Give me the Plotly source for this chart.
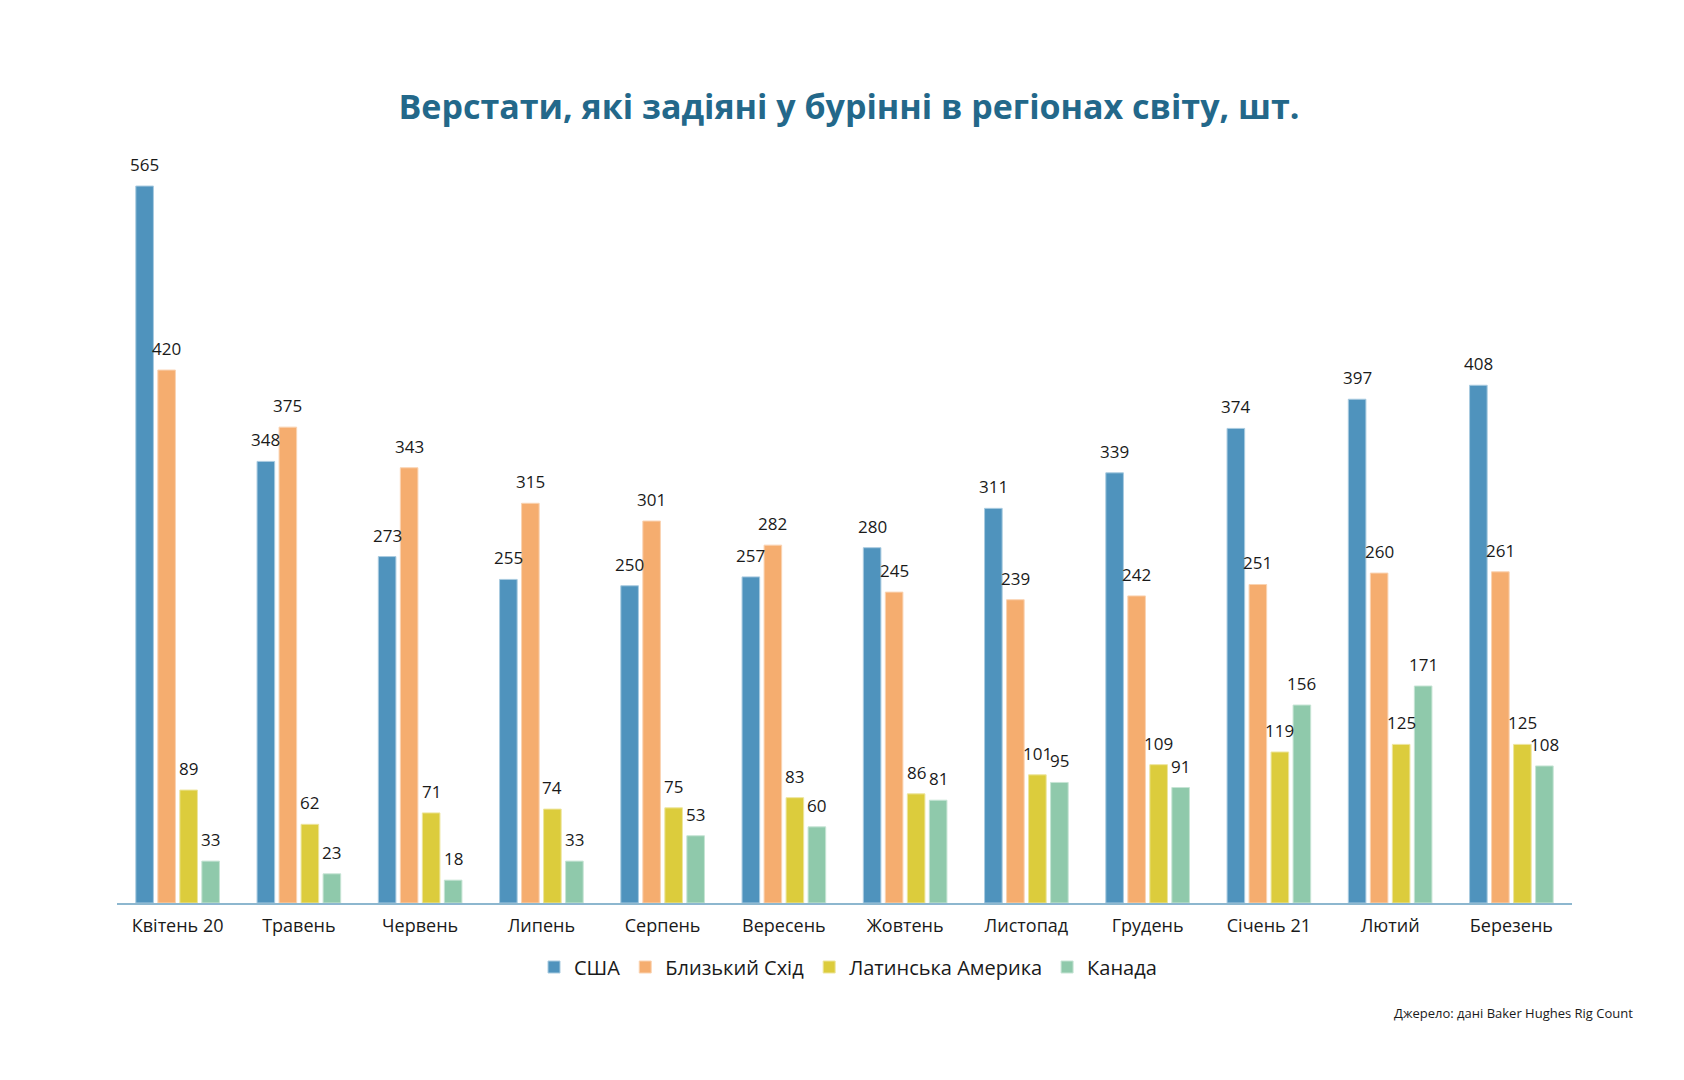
import plotly.graph_objects as go

months = ["Квітень 20", "Травень", "Червень", "Липень", "Серпень", "Вересень",
          "Жовтень", "Листопад", "Грудень", "Січень 21", "Лютий", "Березень"]
usa = [565, 348, 273, 255, 250, 257, 280, 311, 339, 374, 397, 408]
middle_east = [420, 375, 343, 315, 301, 282, 245, 239, 242, 251, 260, 261]
latin_america = [89, 62, 71, 74, 75, 83, 86, 101, 109, 119, 125, 125]
canada = [33, 23, 18, 33, 53, 60, 81, 95, 91, 156, 171, 108]

series_names = ["США", "Близький Схід", "Латинська Америка", "Канада"]
series_values = [usa, middle_east, latin_america, canada]
colors = ["#4f93bd", "#f5ad6f", "#dccc3c", "#8fc9ab"]
edge_colors = ["#a9cbe0", "#fad3b2", "#ede59c", "#c6e4d4"]

title_text = "Верстати, які задіяні у бурінні в регіонах світу, шт."
source_text = "Джерело: дані Baker Hughes Rig Count"

BARGAP = 0.274
GROUPGAP = 0.2
FONT = "Open Sans"

fig = go.Figure()
for name, vals, c, ec in zip(series_names, series_values, colors, edge_colors):
    fig.add_trace(go.Bar(
        x=months, y=vals, name=name,
        marker=dict(color=c, line=dict(color=ec, width=1)),
    ))

slot = (1 - BARGAP) / len(series_names)
annotations = []
for i, vals in enumerate(series_values):
    off = (i - (len(series_names) - 1) / 2) * slot
    for j, v in enumerate(vals):
        annotations.append(dict(
            x=j + off, y=v, xref="x", yref="y", text=str(v), showarrow=False,
            yanchor="bottom", xanchor="center", yshift=8,
            font=dict(family=FONT, size=17, color="#1a1a1a"),
        ))

L, R, T, B = 117, 112, 150, 177
W, H = 1684, 1080
pw, ph = W - L - R, H - T - B

annotations.append(dict(
    x=(1635 - L) / pw, y=(H - B - 1013) / ph, xref="paper", yref="paper",
    text=source_text, showarrow=False, xanchor="right", yanchor="middle",
    font=dict(family=FONT, size=13, color="#1a1a1a"),
))

fig.update_layout(
    width=W, height=H,
    margin=dict(l=L, r=R, t=T, b=B, autoexpand=False),
    paper_bgcolor="white", plot_bgcolor="white",
    barmode="group", bargap=BARGAP, bargroupgap=GROUPGAP,
    title=dict(text=title_text, x=849 / W, xanchor="center",
               y=1 - 107 / H, yanchor="middle", yref="container",
               font=dict(family=FONT, size=34, color="#23688a", weight="bold")),
    font=dict(family=FONT, color="#1a1a1a"),
    xaxis=dict(showgrid=False, showline=True, linecolor="#8db7cf", linewidth=2,
               ticks="", tickfont=dict(family=FONT, size=18, color="#1a1a1a"),
               ticklabelstandoff=5, fixedrange=True),
    yaxis=dict(range=[0, 593.4], visible=False, fixedrange=True),
    legend=dict(orientation="h", x=(848 - L) / pw, xanchor="center",
                y=(H - B - 967) / ph, yanchor="middle",
                font=dict(family=FONT, size=20, color="#1a1a1a"),
                itemwidth=30, traceorder="normal"),
    annotations=annotations,
)

fig.write_html("out.html")
